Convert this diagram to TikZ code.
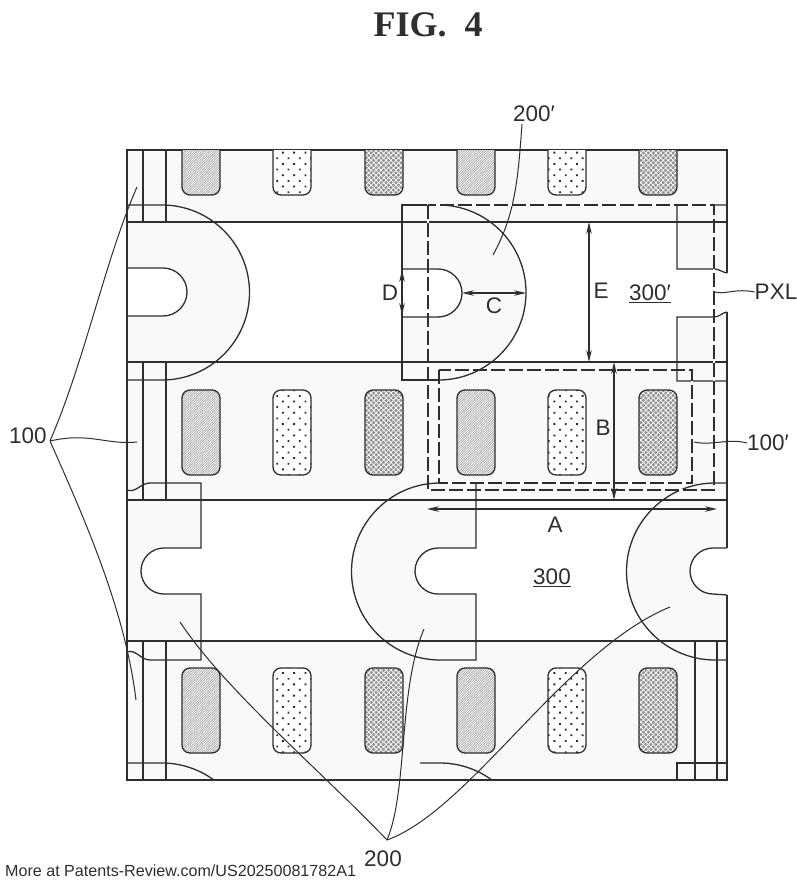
\documentclass[tikz,border=0pt]{standalone}
\usepackage{xcolor}
\usepackage{fontspec}
\setmainfont{Liberation Sans}
\newfontfamily\figfont{Liberation Serif}
\usepackage{tikz}
\usetikzlibrary{arrows.meta, patterns.meta}
\definecolor{inkgray}{HTML}{2E2E2E}
\definecolor{bandgray}{HTML}{F9F9F9}
\tikzset{
  edge/.style={draw=inkgray, line width=1.3pt},
  bandfill/.style={fill=bandgray, draw=none},
  lead/.style={draw=inkgray, line width=1pt},
  dim/.style={draw=inkgray, line width=1.2pt, {Stealth[length=12pt,width=5.5pt]}-{Stealth[length=12pt,width=5.5pt]}},
  regionbox/.style={draw=inkgray, line width=2.2pt, dash pattern=on 14pt off 4pt},
  regionback/.style={draw=white, line width=2.6pt},
  lbl/.style={text=inkgray, font=\fontsize{22.5}{25}\selectfont, inner sep=0pt},
  pillfine/.style={edge, preaction={fill=gray!60}, pattern={Lines[distance=1.7pt,angle=45,line width=.6pt]}, pattern color=white},
  pilldot/.style={edge, preaction={fill=white}, pattern={Dots[distance=8pt,radius=1.3pt,angle=45]}, pattern color=inkgray},
  pillweave/.style={edge, preaction={fill=gray!85}, pattern={Hatch[distance=3.5pt,angle=45,line width=.7pt]}, pattern color=white},
}
\begin{document}
\begin{tikzpicture}[x=1pt,y=-1pt]
\useasboundingbox (0,0) rectangle (797,888);

% Bandas claras
\fill[bandfill] (127,150) rectangle (727,222);
\fill[bandfill] (127,362) rectangle (727,500);
\fill[bandfill] (127,641) rectangle (727,780);

% Areas em arco, linha de cima
\fill[bandfill] (127,205) -- (162,205) arc[start angle=-90,end angle=90,radius=87.5] -- (127,380) -- cycle;
\fill[bandfill] (402,205) -- (438.5,205) arc[start angle=-90,end angle=90,radius=87.5] -- (402,380) -- cycle;
\fill[bandfill] (677,205) rectangle (727,381);

% Areas em arco, linha de baixo
\fill[bandfill] (127,483) rectangle (201,660);
\fill[bandfill] (476,483) -- (440,483) arc[start angle=-90,end angle=-270,radius=88.5] -- (476,660) -- cycle;
\fill[bandfill] (727,483) -- (715,483) arc[start angle=-90,end angle=-270,radius=88.5] -- (727,660) -- cycle;

% Recortes brancos
\fill[white] (127,268) -- (163,268) arc[start angle=-90,end angle=90,radius=24] -- (127,316) -- cycle;
\fill[white] (402,269) -- (438,269) arc[start angle=-90,end angle=90,radius=24] -- (402,317) -- cycle;
\fill[white] (677,269) rectangle (727,317);
\fill[white] (201,548) -- (164,548) arc[start angle=-90,end angle=-270,radius=23] -- (201,594) -- cycle;
\fill[white] (476,548) -- (438,548) arc[start angle=-90,end angle=-270,radius=23] -- (476,594) -- cycle;
\fill[white] (727,548) -- (713,548) arc[start angle=-90,end angle=-270,radius=23] -- (727,595) -- cycle;

% Contorno externo
\draw[edge] (727,273) -- (727,150) -- (127,150) -- (127,780) -- (727,780) -- (727,595);
\draw[edge] (727,548) -- (727,312);

% Linhas horizontais
\foreach \yline in {222,362,500,641}
  \draw[edge] (127,\yline) -- (727,\yline);

% Linhas verticais a esquerda
\foreach \xline in {143,166} {
  \draw[edge] (\xline,150) -- (\xline,222);
  \draw[edge] (\xline,362) -- (\xline,500);
  \draw[edge] (\xline,641) -- (\xline,780);
}

% Linhas verticais a direita
\foreach \xline in {695,717}
  \draw[edge] (\xline,641) -- (\xline,780);

% Pixel da esquerda
\draw[edge] (127,205) -- (162,205) arc[start angle=-90,end angle=90,radius=87.5] -- (127,380);
\draw[edge] (127,268) -- (163,268) arc[start angle=-90,end angle=90,radius=24] -- (127,316);

% Pixel central de cima
\draw[edge] (438.5,205) -- (402,205) -- (402,380) -- (438.5,380);
\draw[edge] (438.5,205) arc[start angle=-90,end angle=90,radius=87.5];
\draw[edge] (402,269) -- (438,269) arc[start angle=-90,end angle=90,radius=24] -- (402,317);

% Pixel da direita
\draw[edge] (727,205) -- (677,205) -- (677,269) -- (714,269) to[out=0,in=170] (727,273);
\draw[edge] (727,312) to[out=190,in=0] (714,317) -- (677,317) -- (677,381) -- (727,381);

% Linha de baixo, esquerda
\draw[edge] (127,490) to[out=-20,in=180] (150,483) -- (201,483) -- (201,548) -- (164,548)
  arc[start angle=-90,end angle=-270,radius=23] -- (201,594) -- (201,660) -- (150,660) to[out=180,in=20] (127,652);

% Linha de baixo, centro
\draw[edge] (476,483) -- (476,548) -- (438,548) arc[start angle=-90,end angle=-270,radius=23] -- (476,594) -- (476,660) -- (440,660);
\draw[edge] (476,483) -- (440,483) arc[start angle=-90,end angle=-270,radius=88.5];

% Linha de baixo, direita
\draw[edge] (727,483) -- (715,483) arc[start angle=-90,end angle=-270,radius=88.5] -- (727,660);
\draw[edge] (727,548) -- (713,548) arc[start angle=-90,end angle=-270,radius=23] -- (727,595);

% Arcos no rodape
\draw[edge] (127,763) -- (162,763) arc[start angle=-90,end angle=-53.7,radius=87.5];
\draw[edge] (420,763) -- (440,763) arc[start angle=-90,end angle=-53.7,radius=87.5];
\draw[edge] (727,763) -- (677,763) -- (677,780);

% Faixas de cima (cortadas pela borda)
\foreach \xpill/\kind in {182/pillfine,273/pilldot,365/pillweave,457/pillfine,548/pilldot,639/pillweave}
  \draw[\kind] (\xpill,150) [rounded corners=8pt] -- (\xpill,195) -- (\xpill+38,195) [sharp corners] -- (\xpill+38,150);

% Faixas inteiras
\foreach \xpill/\kind in {182/pillfine,273/pilldot,365/pillweave,457/pillfine,548/pilldot,639/pillweave} {
  \draw[\kind, rounded corners=8pt] (\xpill,390) rectangle ++(38,85);
  \draw[\kind, rounded corners=8pt] (\xpill,668) rectangle ++(38,85);
}

% Linhas de chamada e rotulos
\node[lbl] (fig4) at (428,25) {\figfont\fontsize{36}{38}\selectfont\bfseries FIG.\ \ 4};
\node[lbl] (lbl200p) at (534,114) {200\char"2032};
\node[lbl] (lbl300p) at (650,294) {\underline{300\char"2032}};
\node[lbl] (lbl300) at (552,578) {\underline{300}};
\node[lbl] (lblpxl) at (776,292) {PXL};
\node[lbl] (lbl100p) at (768,443) {100\char"2032};
\node[lbl] (lbl100) at (28,436) {100};
\node[lbl] (lbl200) at (383,859) {200};

\coordinate (tip200p) at (493,255);
\coordinate (tip100a) at (137,187);
\coordinate (tip100b) at (137,442);
\coordinate (tip100c) at (136,700);
\coordinate (tip200a) at (180,622);
\coordinate (tip200b) at (424,629);
\coordinate (tip200c) at (670,607);
\coordinate (hub100) at (50,441);
\coordinate (hub200) at (387,840);
\coordinate (pxlend) at (715,292);
\coordinate (regend) at (694,442);

\draw[lead] (lbl200p.south) ++(-12,2) .. controls (518,180) and (515,215) .. (tip200p);
\draw[lead] (hub100) .. controls (85,360) and (105,260) .. (tip100a);
\draw[lead] (hub100) .. controls (90,432) and (105,445) .. (tip100b);
\draw[lead] (hub100) .. controls (85,520) and (125,610) .. (tip100c);
\draw[lead] (hub200) .. controls (320,770) and (225,690) .. (tip200a);
\draw[lead] (hub200) .. controls (408,790) and (398,690) .. (tip200b);
\draw[lead] (hub200) .. controls (470,810) and (565,650) .. (tip200c);
\draw[lead] (pxlend) .. controls (725,295) and (735,288) .. (lblpxl.west);
\draw[lead] (regend) .. controls (712,446) and (728,438) .. (lbl100p.west);

% Regioes tracejadas
\draw[regionback] (428,205) rectangle (714,490);
\draw[regionback] (439,370) rectangle (692,483);
\draw[regionbox] (428,205) rectangle (714,490);
\draw[regionbox] (439,370) rectangle (692,483);

% Cotas
\coordinate (eup) at (589,222);
\coordinate (edown) at (589,362);
\coordinate (bup) at (614,362);
\coordinate (bdown) at (614,500);
\coordinate (aleft) at (427,509);
\coordinate (aright) at (717,509);
\coordinate (cleft) at (462,293);
\coordinate (cright) at (526,293);
\coordinate (dup) at (402,270);
\coordinate (ddown) at (402,315);
\draw[dim] (eup) -- (edown);
\draw[dim] (bup) -- (bdown);
\draw[dim] (aleft) -- (aright);
\draw[dim] (cleft) -- (cright);
\draw[dim] (dup) -- (ddown);
\node[lbl] (lble) at (601,291) {E};
\node[lbl] (lblb) at (603,428) {B};
\node[lbl] (lbla) at (555,525) {A};
\node[lbl] (lblc) at (494,306) {C};
\node[lbl] (lbld) at (390,293) {D};

% Rodape
\node[anchor=west, inner sep=0pt, font=\fontsize{16.1}{18}\selectfont, text=inkgray] (footer) at (5,871) {More at Patents-Review.com/US20250081782A1};
\end{tikzpicture}
\end{document}
